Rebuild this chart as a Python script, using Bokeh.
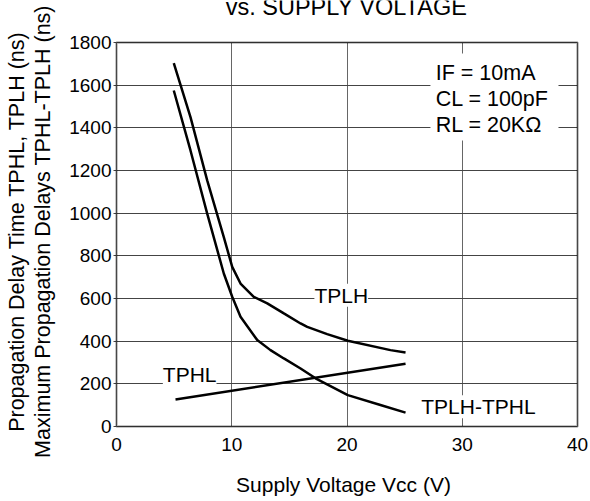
import math
from bokeh.plotting import figure
from bokeh.models import Label, BoxAnnotation, Range1d
from bokeh.embed import file_html
from bokeh.resources import INLINE

# ---- data ----
vcc_tplh = [4.97, 6.42, 7.87, 9.31, 10.04, 10.76, 11.91, 13.08, 14.52, 15.97, 16.55, 18.28, 20.07, 23.77, 25.08]
tplh = [1703, 1450, 1154, 888, 748, 670, 608, 577, 530, 483, 467, 433, 402, 358, 347]

vcc_diff = [4.97, 6.42, 7.87, 9.31, 10.04, 10.76, 12.21, 13.36, 14.52, 15.97, 17.27, 20.07, 22.9, 25.08]
tplh_tphl = [1575, 1294, 998, 717, 608, 514, 405, 358, 319, 272, 226, 147, 101, 65]

vcc_tphl = [5.12, 25.08]
tphl = [127, 294]

x_ticks = [0, 10, 20, 30, 40]
y_ticks = [0, 200, 400, 600, 800, 1000, 1200, 1400, 1600, 1800]

title_text = "vs. SUPPLY VOLTAGE"
x_label = "Supply Voltage Vcc (V)"
y_label_1 = "Propagation Delay Time TPHL, TPLH (ns)"
y_label_2 = "Maximum Propagation Delays TPHL-TPLH (ns)"
cond_lines = ["IF = 10mA", "CL = 100pF", "RL = 20K\u03a9"]

FONT = "Liberation Sans"
W, H = 590, 501
# plot box in canvas pixels (from top-left)
BOX_L, BOX_R, BOX_T, BOX_B = 116, 577, 42, 426
XMIN, XMAX = x_ticks[0], x_ticks[-1]
YMIN, YMAX = y_ticks[0], y_ticks[-1]
ux = (XMAX - XMIN) / (BOX_R - BOX_L)   # data units per pixel
uy = (YMAX - YMIN) / (BOX_B - BOX_T)
x_range = Range1d(XMIN - BOX_L * ux, XMAX + (W - BOX_R) * ux)
y_range = Range1d(YMIN - (H - BOX_B) * uy, YMAX + BOX_T * uy)

p = figure(width=W, height=H, output_backend="svg", toolbar_location=None,
           x_range=x_range, y_range=y_range,
           min_border_left=0, min_border_right=0, min_border_top=0, min_border_bottom=0)
p.title.visible = False
p.background_fill_color = "white"
p.border_fill_color = "white"
p.outline_line_color = None

p.xaxis.ticker = x_ticks
p.yaxis.ticker = y_ticks
p.xaxis.fixed_location = YMIN
p.yaxis.fixed_location = XMIN
for ax in (p.xaxis[0], p.yaxis[0]):
    ax.axis_line_color = None
    ax.minor_tick_line_color = None
    ax.major_label_text_font = FONT
    ax.major_label_text_font_size = "19px"
    ax.major_label_text_color = "black"
p.xaxis.major_tick_line_color = None
p.yaxis.major_tick_line_color = "#444444"
p.yaxis.major_tick_in = 0
p.yaxis.major_tick_out = 3
p.xaxis.major_label_standoff = 5
p.yaxis.major_label_standoff = 2

# grid lines confined to the plot box
xg, yg = p.xgrid[0], p.ygrid[0]
if "cross_bounds" in xg.properties():
    xg.bounds = (XMIN, XMAX)
    xg.cross_bounds = (YMIN, YMAX)
    yg.bounds = (YMIN, YMAX)
    yg.cross_bounds = (XMIN, XMAX)
    xg.grid_line_color = "#666666"
    yg.grid_line_color = "#444444"
    for g in (xg, yg):
        g.grid_line_width = 1
else:
    xg.grid_line_color = None
    yg.grid_line_color = None
    p.segment(x0=x_ticks, y0=[YMIN] * len(x_ticks), x1=x_ticks, y1=[YMAX] * len(x_ticks),
              line_color="#666666", line_width=1)
    p.segment(x0=[XMIN] * len(y_ticks), y0=y_ticks, x1=[XMAX] * len(y_ticks), y1=y_ticks,
              line_color="#444444", line_width=1)

p.line(vcc_tplh, tplh, line_color="black", line_width=2.5)
p.line(vcc_diff, tplh_tphl, line_color="black", line_width=2.5)
p.line(vcc_tphl, tphl, line_color="black", line_width=2.5)

def dlabel(x, y, text, align="center"):
    p.add_layout(Label(x=x, y=y, text=text, text_align=align, text_baseline="alphabetic",
                       text_font=FONT, text_font_size="21px", text_color="black",
                       background_fill_color="white", background_fill_alpha=1.0))

dlabel(19.5, 615, "TPLH")
dlabel(6.35, 243, "TPHL")
dlabel(31.4, 92, "TPLH-TPHL")

p.add_layout(BoxAnnotation(left=27.24, right=38.35, bottom=1341, top=1748,
                           fill_color="white", fill_alpha=1.0, line_color=None))
for txt, yy in zip(cond_lines, [1655, 1534, 1414]):
    p.add_layout(Label(x=27.7, y=yy, text=txt, text_align="left", text_baseline="alphabetic",
                       text_font=FONT, text_font_size="21.5px", text_color="black"))

# frame of the plot box
p.add_layout(BoxAnnotation(left=XMIN, right=XMAX, bottom=YMIN, top=YMAX,
                           fill_alpha=0.0, line_color="black", line_width=2.5))

# title (partly cut at top) and axis titles, in canvas pixels
def slabel(cx, cy, text, size, angle=0.0):
    p.add_layout(Label(x=cx, y=H - cy, x_units="screen", y_units="screen", text=text,
                       angle=angle, text_align="center", text_baseline="alphabetic",
                       text_font=FONT, text_font_size=size, text_color="black"))

slabel(346, 6, title_text, "23.5px")
slabel(343, 484, x_label, "21px")
slabel(16, 231, y_label_1, "21.5px", math.pi / 2)
slabel(42, 231, y_label_2, "21.5px", math.pi / 2)

open("out.html", "w").write(file_html(p, INLINE))
